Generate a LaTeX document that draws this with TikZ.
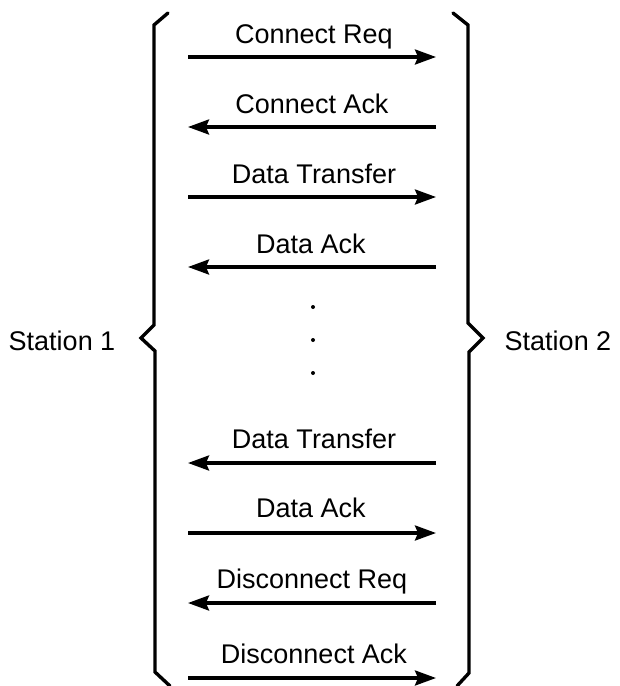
\documentclass[tikz,border=0pt]{standalone}
\usepackage{fontspec}
\setmainfont{Liberation Sans}
\usetikzlibrary{arrows.meta}
\begin{document}
\begin{tikzpicture}[x=1pt,y=-1pt,
  msg/.style={line width=3.2pt,-{Stealth[length=21pt,width=15pt,inset=3pt]}},
  brace/.style={line width=3.4pt,line cap=round,line join=miter},
  lbl/.style={anchor=base,inner sep=0pt,font=\fontsize{27}{31}\selectfont},
  dotmark/.style={circle,fill=black,inner sep=0pt,minimum size=4pt}]
\useasboundingbox (0,0) rectangle (620,686);
% braces
\draw[brace] (168,13) -- (154,25) -- (154,325) -- (141,338) -- (155,351) -- (155,672) -- (170,686);
\draw[brace] (453,13) -- (468,25) -- (468,323) -- (483,338) -- (469,352) -- (469,673) -- (457,686);
% stations
\node[lbl] (s1) at (62,350) {Station 1};
\node[lbl] (s2) at (558,350) {Station 2};
% arrow end points
\foreach \i/\y in {1/57,2/127,3/197,4/267,5/463,6/533,7/603,8/678}{
  \coordinate (L\i) at (188,\y);
  \coordinate (R\i) at (436,\y);
}
\draw[msg] (L1) -- (R1);
\draw[msg] (R2) -- (L2);
\draw[msg] (L3) -- (R3);
\draw[msg] (R4) -- (L4);
\draw[msg] (R5) -- (L5);
\draw[msg] (L6) -- (R6);
\draw[msg] (R7) -- (L7);
\draw[msg] (L8) -- (R8);
% labels
\node[lbl] (t1) at (314,43) {Connect Req};
\node[lbl] (t2) at (312,113) {Connect Ack};
\node[lbl] (t3) at (314,183) {Data Transfer};
\node[lbl] (t4) at (311,253) {Data Ack};
\node[lbl] (t5) at (314,448) {Data Transfer};
\node[lbl] (t6) at (311,517) {Data Ack};
\node[lbl] (t7) at (312,588) {Disconnect Req};
\node[lbl] (t8) at (314,663) {Disconnect Ack};
% dots
\node[dotmark] (d1) at (313,307) {};
\node[dotmark] (d2) at (313,340) {};
\node[dotmark] (d3) at (313,373) {};
\end{tikzpicture}
\end{document}
